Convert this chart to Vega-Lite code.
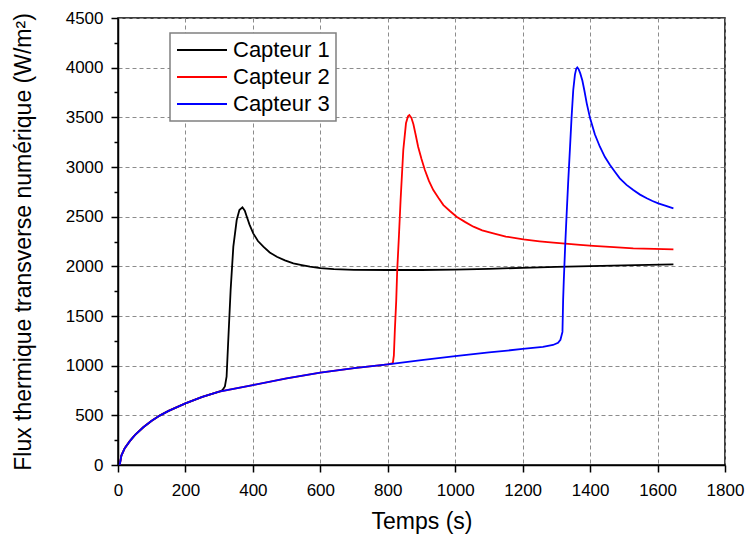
{
  "$schema": "https://vega.github.io/schema/vega-lite/v6.json",
  "width": 607,
  "height": 447,
  "autosize": {"type": "none"},
  "padding": {"left": 118, "top": 18, "right": 22, "bottom": 71},
  "background": "white",
  "config": {
    "font": "Liberation Sans",
    "view": {"stroke": "black", "strokeWidth": 1.5},
    "axis": {
      "domainColor": "black",
      "domainWidth": 1.5,
      "tickColor": "black",
      "tickWidth": 1.5,
      "labelColor": "black",
      "titleColor": "black",
      "labelFont": "Liberation Sans",
      "titleFont": "Liberation Sans",
      "labelFontSize": 17,
      "titleFontSize": 23,
      "titleFontWeight": "normal"
    }
  },
  "data": {
    "values": [
      {"s": "Capteur 1", "t": 5, "v": 0}, {"s": "Capteur 1", "t": 10, "v": 95}, {"s": "Capteur 1", "t": 20, "v": 170}, {"s": "Capteur 1", "t": 35, "v": 240}, {"s": "Capteur 1", "t": 50, "v": 300}, {"s": "Capteur 1", "t": 75, "v": 380}, {"s": "Capteur 1", "t": 100, "v": 445}, {"s": "Capteur 1", "t": 125, "v": 500}, {"s": "Capteur 1", "t": 150, "v": 545}, {"s": "Capteur 1", "t": 200, "v": 620}, {"s": "Capteur 1", "t": 250, "v": 685}, {"s": "Capteur 1", "t": 300, "v": 738},
      {"s": "Capteur 1", "t": 310, "v": 755}, {"s": "Capteur 1", "t": 317, "v": 790}, {"s": "Capteur 1", "t": 322, "v": 889}, {"s": "Capteur 1", "t": 327, "v": 1258}, {"s": "Capteur 1", "t": 334, "v": 1762}, {"s": "Capteur 1", "t": 342, "v": 2198}, {"s": "Capteur 1", "t": 352, "v": 2466}, {"s": "Capteur 1", "t": 360, "v": 2567}, {"s": "Capteur 1", "t": 369, "v": 2594}, {"s": "Capteur 1", "t": 376, "v": 2560}, {"s": "Capteur 1", "t": 382, "v": 2500}, {"s": "Capteur 1", "t": 390, "v": 2420}, {"s": "Capteur 1", "t": 401, "v": 2332}, {"s": "Capteur 1", "t": 415, "v": 2255}, {"s": "Capteur 1", "t": 431, "v": 2198}, {"s": "Capteur 1", "t": 450, "v": 2140}, {"s": "Capteur 1", "t": 471, "v": 2097}, {"s": "Capteur 1", "t": 495, "v": 2060}, {"s": "Capteur 1", "t": 520, "v": 2030}, {"s": "Capteur 1", "t": 545, "v": 2012}, {"s": "Capteur 1", "t": 569, "v": 1996}, {"s": "Capteur 1", "t": 600, "v": 1982}, {"s": "Capteur 1", "t": 640, "v": 1972}, {"s": "Capteur 1", "t": 700, "v": 1965}, {"s": "Capteur 1", "t": 800, "v": 1963}, {"s": "Capteur 1", "t": 900, "v": 1963}, {"s": "Capteur 1", "t": 1000, "v": 1967}, {"s": "Capteur 1", "t": 1100, "v": 1975}, {"s": "Capteur 1", "t": 1200, "v": 1985}, {"s": "Capteur 1", "t": 1300, "v": 1995}, {"s": "Capteur 1", "t": 1400, "v": 2003}, {"s": "Capteur 1", "t": 1500, "v": 2010}, {"s": "Capteur 1", "t": 1647, "v": 2020},
      {"s": "Capteur 2", "t": 5, "v": 0}, {"s": "Capteur 2", "t": 10, "v": 95}, {"s": "Capteur 2", "t": 20, "v": 170}, {"s": "Capteur 2", "t": 35, "v": 240}, {"s": "Capteur 2", "t": 50, "v": 300}, {"s": "Capteur 2", "t": 75, "v": 380}, {"s": "Capteur 2", "t": 100, "v": 445}, {"s": "Capteur 2", "t": 125, "v": 500}, {"s": "Capteur 2", "t": 150, "v": 545}, {"s": "Capteur 2", "t": 200, "v": 620}, {"s": "Capteur 2", "t": 250, "v": 685}, {"s": "Capteur 2", "t": 300, "v": 738}, {"s": "Capteur 2", "t": 400, "v": 805}, {"s": "Capteur 2", "t": 500, "v": 872}, {"s": "Capteur 2", "t": 600, "v": 929}, {"s": "Capteur 2", "t": 700, "v": 975}, {"s": "Capteur 2", "t": 800, "v": 1013},
      {"s": "Capteur 2", "t": 815, "v": 1025}, {"s": "Capteur 2", "t": 818, "v": 1100}, {"s": "Capteur 2", "t": 821, "v": 1359}, {"s": "Capteur 2", "t": 825, "v": 1650}, {"s": "Capteur 2", "t": 828, "v": 1963}, {"s": "Capteur 2", "t": 833, "v": 2300}, {"s": "Capteur 2", "t": 838, "v": 2668}, {"s": "Capteur 2", "t": 846, "v": 3171}, {"s": "Capteur 2", "t": 854, "v": 3440}, {"s": "Capteur 2", "t": 860, "v": 3510}, {"s": "Capteur 2", "t": 864, "v": 3523}, {"s": "Capteur 2", "t": 870, "v": 3495}, {"s": "Capteur 2", "t": 876, "v": 3430}, {"s": "Capteur 2", "t": 883, "v": 3320}, {"s": "Capteur 2", "t": 890, "v": 3204}, {"s": "Capteur 2", "t": 900, "v": 3080}, {"s": "Capteur 2", "t": 910, "v": 2970}, {"s": "Capteur 2", "t": 922, "v": 2860}, {"s": "Capteur 2", "t": 935, "v": 2768}, {"s": "Capteur 2", "t": 950, "v": 2690}, {"s": "Capteur 2", "t": 965, "v": 2617}, {"s": "Capteur 2", "t": 985, "v": 2555}, {"s": "Capteur 2", "t": 1004, "v": 2500}, {"s": "Capteur 2", "t": 1030, "v": 2445}, {"s": "Capteur 2", "t": 1054, "v": 2399}, {"s": "Capteur 2", "t": 1080, "v": 2362}, {"s": "Capteur 2", "t": 1113, "v": 2332}, {"s": "Capteur 2", "t": 1150, "v": 2300}, {"s": "Capteur 2", "t": 1202, "v": 2272}, {"s": "Capteur 2", "t": 1250, "v": 2252}, {"s": "Capteur 2", "t": 1291, "v": 2238}, {"s": "Capteur 2", "t": 1370, "v": 2215}, {"s": "Capteur 2", "t": 1409, "v": 2205}, {"s": "Capteur 2", "t": 1470, "v": 2193}, {"s": "Capteur 2", "t": 1528, "v": 2181}, {"s": "Capteur 2", "t": 1590, "v": 2176}, {"s": "Capteur 2", "t": 1647, "v": 2171},
      {"s": "Capteur 3", "t": 5, "v": 0}, {"s": "Capteur 3", "t": 10, "v": 95}, {"s": "Capteur 3", "t": 20, "v": 170}, {"s": "Capteur 3", "t": 35, "v": 240}, {"s": "Capteur 3", "t": 50, "v": 300}, {"s": "Capteur 3", "t": 75, "v": 380}, {"s": "Capteur 3", "t": 100, "v": 445}, {"s": "Capteur 3", "t": 125, "v": 500}, {"s": "Capteur 3", "t": 150, "v": 545}, {"s": "Capteur 3", "t": 200, "v": 620}, {"s": "Capteur 3", "t": 250, "v": 685}, {"s": "Capteur 3", "t": 300, "v": 738}, {"s": "Capteur 3", "t": 400, "v": 805}, {"s": "Capteur 3", "t": 500, "v": 872}, {"s": "Capteur 3", "t": 600, "v": 929}, {"s": "Capteur 3", "t": 700, "v": 975}, {"s": "Capteur 3", "t": 800, "v": 1013}, {"s": "Capteur 3", "t": 900, "v": 1055}, {"s": "Capteur 3", "t": 1000, "v": 1097}, {"s": "Capteur 3", "t": 1100, "v": 1133}, {"s": "Capteur 3", "t": 1200, "v": 1168}, {"s": "Capteur 3", "t": 1260, "v": 1190}, {"s": "Capteur 3", "t": 1290, "v": 1208}, {"s": "Capteur 3", "t": 1305, "v": 1230}, {"s": "Capteur 3", "t": 1312, "v": 1260}, {"s": "Capteur 3", "t": 1318, "v": 1340},
      {"s": "Capteur 3", "t": 1320, "v": 1661}, {"s": "Capteur 3", "t": 1322, "v": 1862}, {"s": "Capteur 3", "t": 1326, "v": 2200}, {"s": "Capteur 3", "t": 1330, "v": 2500}, {"s": "Capteur 3", "t": 1335, "v": 2850}, {"s": "Capteur 3", "t": 1340, "v": 3171}, {"s": "Capteur 3", "t": 1345, "v": 3500}, {"s": "Capteur 3", "t": 1350, "v": 3775}, {"s": "Capteur 3", "t": 1355, "v": 3930}, {"s": "Capteur 3", "t": 1359, "v": 3990}, {"s": "Capteur 3", "t": 1362, "v": 4003}, {"s": "Capteur 3", "t": 1366, "v": 3985}, {"s": "Capteur 3", "t": 1371, "v": 3940}, {"s": "Capteur 3", "t": 1377, "v": 3870}, {"s": "Capteur 3", "t": 1383, "v": 3770}, {"s": "Capteur 3", "t": 1390, "v": 3641}, {"s": "Capteur 3", "t": 1400, "v": 3490}, {"s": "Capteur 3", "t": 1414, "v": 3330}, {"s": "Capteur 3", "t": 1429, "v": 3204}, {"s": "Capteur 3", "t": 1444, "v": 3100}, {"s": "Capteur 3", "t": 1459, "v": 3020}, {"s": "Capteur 3", "t": 1474, "v": 2950}, {"s": "Capteur 3", "t": 1488, "v": 2886}, {"s": "Capteur 3", "t": 1508, "v": 2820}, {"s": "Capteur 3", "t": 1528, "v": 2768}, {"s": "Capteur 3", "t": 1548, "v": 2722}, {"s": "Capteur 3", "t": 1568, "v": 2685}, {"s": "Capteur 3", "t": 1585, "v": 2658}, {"s": "Capteur 3", "t": 1602, "v": 2634}, {"s": "Capteur 3", "t": 1625, "v": 2608}, {"s": "Capteur 3", "t": 1647, "v": 2584}
    ]
  },
  "mark": {"type": "line", "strokeWidth": 1.8, "clip": true},
  "encoding": {
    "x": {
      "field": "t",
      "type": "quantitative",
      "scale": {"domain": [0, 1800], "nice": false, "zero": false},
      "axis": {
        "title": "Temps (s)",
        "values": [0, 200, 400, 600, 800, 1000, 1200, 1400, 1600, 1800],
        "format": "d",
        "labelExpr": "datum.value % 200 === 0 ? datum.label : ''",
        "tickSize": {"condition": {"test": "datum.value % 200 === 0", "value": 7}, "value": 4},
        "grid": true,
        "gridColor": "#8c8c8c",
        "gridDash": [4, 3],
        "gridWidth": 1,
        "labelPadding": 10,
        "titlePadding": 12,
        "labelFlush": false,
        "labelOverlap": false
      }
    },
    "y": {
      "field": "v",
      "type": "quantitative",
      "scale": {"domain": [0, 4500], "nice": false},
      "axis": {
        "title": "Flux thermique transverse numérique (W/m²)",
        "values": [0, 250, 500, 750, 1000, 1250, 1500, 1750, 2000, 2250, 2500, 2750, 3000, 3250, 3500, 3750, 4000, 4250, 4500],
        "format": "d",
        "labelExpr": "datum.value % 500 === 0 ? datum.label : ''",
        "tickSize": {"condition": {"test": "datum.value % 500 === 0", "value": 7}, "value": 4},
        "grid": true,
        "gridColor": "#8c8c8c",
        "gridDash": [4, 3],
        "gridWidth": 1,
        "gridOpacity": {"condition": {"test": "datum.value % 500 === 0", "value": 1}, "value": 0},
        "labelPadding": 8,
        "titlePadding": 30,
        "labelFlush": false,
        "labelOverlap": false
      }
    },
    "color": {
      "field": "s",
      "type": "nominal",
      "scale": {"domain": ["Capteur 1", "Capteur 2", "Capteur 3"], "range": ["#000000", "#ff0000", "#0000ff"]},
      "legend": {
        "title": null,
        "orient": "none",
        "legendX": 52,
        "legendY": 15,
        "symbolType": "M-5,0H5",
        "symbolSize": 100,
        "symbolStrokeWidth": 1.8,
        "symbolOffset": 15,
        "labelFontSize": 22,
        "labelFont": "Liberation Sans",
        "labelColor": "black",
        "labelOffset": 20,
        "rowPadding": 5,
        "padding": 6,
        "strokeColor": "#808080",
        "fillColor": "white",
        "encode": {"legend": {"update": {"strokeWidth": {"value": 1.5}}}}
      }
    }
  }
}
